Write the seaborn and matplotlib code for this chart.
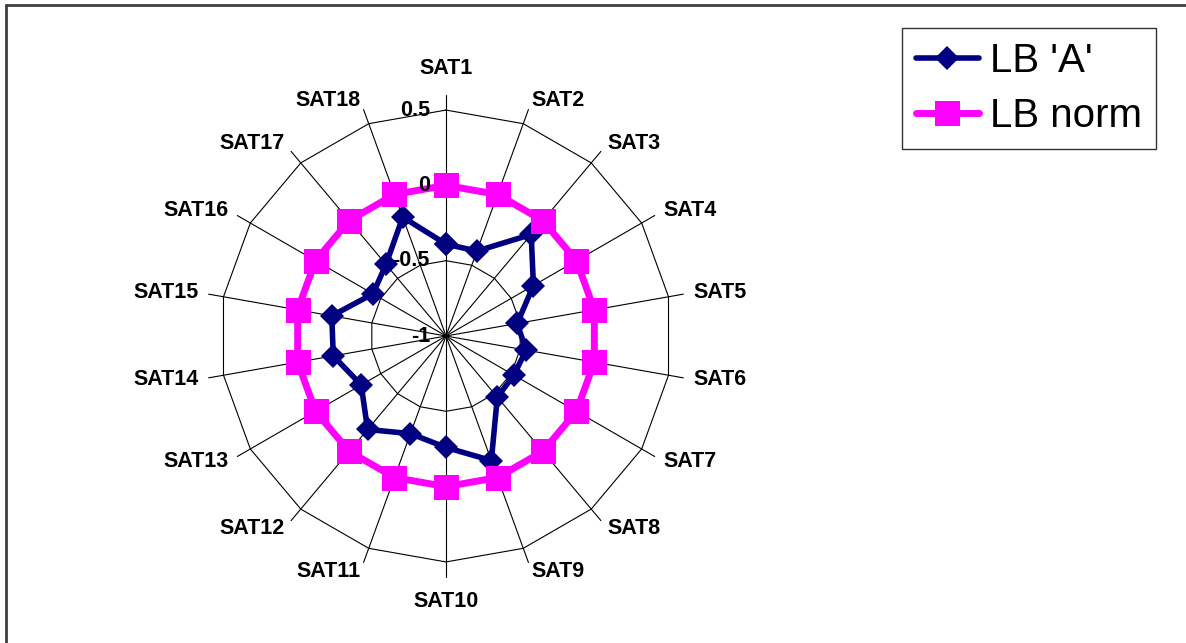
import numpy as np
import pandas as pd
import matplotlib
matplotlib.use("Agg")
import matplotlib.pyplot as plt
from matplotlib.lines import Line2D
import seaborn as sns

# Satisfaction dimensions and scores
categories = [f"SAT{i}" for i in range(1, 19)]
lb_a = [-0.39, -0.40, -0.12, -0.33, -0.52, -0.46, -0.48, -0.47, -0.12,
        -0.26, -0.31, -0.19, -0.35, -0.24, -0.23, -0.44, -0.38, -0.16]
lb_norm = [0.0] * 18
ring_values = [-0.5, 0.0, 0.5]
tick_values = [0.5, 0.0, -0.5, -1.0]
tick_labels = ["0.5", "0", "-0.5", "-1"]
series_names = ["LB 'A'", "LB norm"]

sns.set_style("white")
plt.rcParams["font.family"] = ["Liberation Sans", "DejaVu Sans"]
plt.rcParams["text.color"] = "black"

NAVY = "#000080"
PINK = "#FF00FF"

fig = plt.figure(figsize=(11.86, 6.43), dpi=100)
ax = fig.add_axes([205 / 1186, 66 / 643, 482 / 1186, 482 / 643], projection="polar")
ax.set_theta_zero_location("N")
ax.set_theta_direction(-1)
ax.set_ylim(-1, 0.6)
ax.grid(False)
ax.spines["polar"].set_visible(False)
ax.set_xticks([])
ax.set_yticks([])
ax.patch.set_alpha(0)

n = len(categories)
theta = np.linspace(0, 2 * np.pi, n, endpoint=False)
theta_closed = np.append(theta, 2 * np.pi)

# polygon rings
for v in ring_values:
    ax.plot(theta_closed, [v] * (n + 1), color="black", lw=0.8, zorder=1)
# spokes
for t in theta:
    ax.plot([t, t], [-1, 0.6], color="black", lw=0.8, zorder=1, clip_on=False)

def closed(vals):
    return list(vals) + [vals[0]]

df_a = pd.DataFrame({"theta": theta_closed, "value": closed(lb_a)})
df_n = pd.DataFrame({"theta": theta_closed, "value": closed(lb_norm)})

sns.lineplot(data=df_a, x="theta", y="value", sort=False, ax=ax, color=NAVY,
             lw=4, marker="D", markersize=12, markeredgecolor=NAVY,
             markeredgewidth=0, zorder=3, clip_on=False)
sns.lineplot(data=df_n, x="theta", y="value", sort=False, ax=ax, color=PINK,
             lw=5, marker="s", markersize=18, markeredgecolor=PINK,
             markeredgewidth=0, zorder=4, clip_on=False)
ax.set_xlabel("")
ax.set_ylabel("")
ax.set_ylim(-1, 0.6)

# category labels outside the spokes
for t, lab in zip(theta, categories):
    s, c = np.sin(t), np.cos(t)
    if abs(s) < 0.05:
        ha = "center"
        va = "bottom" if c > 0 else "top"
        off = 16 if c > 0 else 14
    else:
        ha = "left" if s > 0 else "right"
        va = "center"
        off = 10
    ax.annotate(lab, xy=(t, 0.6), xytext=(off * s, off * c),
                textcoords="offset pixels", ha=ha, va=va, color="black",
                fontsize=15.5, fontweight="bold", annotation_clip=False)

# radial value labels along the first spoke
for v, lab in zip(tick_values, tick_labels):
    ax.annotate(lab, xy=(0, v), xytext=(-16, 0), textcoords="offset pixels",
                ha="right", va="center", fontsize=15.5, fontweight="bold",
                color="black", zorder=5, annotation_clip=False)

handles = [
    Line2D([], [], color=NAVY, lw=4, marker="D", markersize=12,
           markeredgewidth=0, solid_capstyle="round"),
    Line2D([], [], color=PINK, lw=5, marker="s", markersize=18,
           markeredgewidth=0, solid_capstyle="round"),
]
leg = fig.legend(handles, series_names, loc="upper left",
                 bbox_to_anchor=(902 / 1186, 1 - 28 / 643),
                 fontsize=29, frameon=True, fancybox=False, edgecolor="black",
                 handlelength=1.55, handletextpad=0.28, borderpad=0.35,
                 labelspacing=0.42, borderaxespad=0)
leg.get_frame().set_linewidth(1.0)
for txt in leg.get_texts():
    txt.set_color("black")

# outer frame (left and top edges visible)
frame_col = "#404040"
fig.add_artist(Line2D([6 / 1186, 6 / 1186], [1 - 5 / 643, -0.1],
                      transform=fig.transFigure, color=frame_col, lw=2))
fig.add_artist(Line2D([6 / 1186, 1.1], [1 - 5 / 643, 1 - 5 / 643],
                      transform=fig.transFigure, color=frame_col, lw=2))

fig.savefig("out.png", dpi=100, facecolor="white")
